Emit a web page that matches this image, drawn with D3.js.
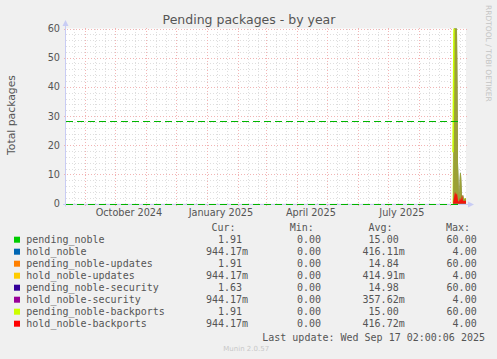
<!DOCTYPE html>
<html><head><meta charset="utf-8">
<script src="https://cdn.jsdelivr.net/npm/d3@7"></script>
<style>
body{margin:0;background:#f0f0f0}
svg{display:block}
</style>
</head><body>
<svg id="c" width="497" height="359"></svg>
<script>
// ---------- data ----------
const title = "Pending packages - by year";
const yLabel = "Total packages";
const yTicks = [0, 10, 20, 30, 40, 50, 60];
const xTickLabels = ["October 2024", "January 2025", "April 2025", "July 2025"];
const rangeStart = "2024-08-13T02:00:00";
const rangeEnd = "2025-09-17T02:00:00";
const seriesNames = ["pending_noble", "hold_noble", "pending_noble-updates", "hold_noble-updates",
  "pending_noble-security", "hold_noble-security", "pending_noble-backports", "hold_noble-backports"];
const seriesColors = ["#00cc00", "#0066b3", "#ff8000", "#ffcc00", "#330099", "#990099", "#ccff00", "#ff0000"];
const dates = ["2025-09-03", "2025-09-04", "2025-09-05", "2025-09-06", "2025-09-07", "2025-09-08",
  "2025-09-09", "2025-09-10", "2025-09-11", "2025-09-12", "2025-09-13", "2025-09-14",
  "2025-09-15", "2025-09-16", "2025-09-17"];
const pendingNoble          = [0, 0, 60, 60, 60, 60, 14, 1, 10.7, 10, 2, 3, 1.5, 1.9, 1.91];
const holdNoble             = [0, 0, 2, 4, 3, 3.5, 1, 0.5, 2, 1, 3, 1, 0.9, 0.94, 0.94];
const pendingNobleUpdates   = [0, 0, 60, 60, 60, 58, 13, 1, 10.5, 10, 2, 3, 1.5, 1.9, 1.91];
const holdNobleUpdates      = [0, 0, 2, 4, 3, 3.5, 1, 0.5, 2, 1, 3, 1, 0.9, 0.94, 0.94];
const pendingNobleSecurity  = [0, 0, 60, 60, 60, 60, 14, 1, 10.7, 10, 2, 3, 1.5, 1.6, 1.63];
const holdNobleSecurity     = [0, 0, 1.5, 4, 2.5, 3, 0.8, 0.4, 1.6, 0.8, 2.5, 0.8, 0.8, 0.94, 0.94];
const pendingNobleBackports = [0, 17.6, 60, 60, 60, 60, 14, 1, 10.7, 10, 2, 3, 1.5, 1.9, 1.91];
const holdNobleBackports    = [0, 0, 2, 4, 3, 3.5, 1, 0.5, 2, 1, 3, 1, 0.9, 0.94, 0.94];
const seriesValues = [pendingNoble, holdNoble, pendingNobleUpdates, holdNobleUpdates,
  pendingNobleSecurity, holdNobleSecurity, pendingNobleBackports, holdNobleBackports];
const ruleValues = [0, 28.3];
const curVals = ["1.91", "944.17m", "1.91", "944.17m", "1.63", "944.17m", "1.91", "944.17m"];
const minVals = ["0.00", "0.00", "0.00", "0.00", "0.00", "0.00", "0.00", "0.00"];
const avgVals = ["15.00", "416.11m", "14.84", "414.91m", "14.98", "357.62m", "15.00", "416.72m"];
const maxVals = ["60.00", "4.00", "60.00", "4.00", "60.00", "4.00", "60.00", "4.00"];
const colHeaders = ["Cur:", "Min:", "Avg:", "Max:"];
const lastUpdate = "Last update: Wed Sep 17 02:00:06 2025";
const watermark = "RRDTOOL / TOBI OETIKER";
const version = "Munin 2.0.57";

// ---------- drawing ----------
const svg = d3.select("#c");
const parse = s => new Date(s.length === 10 ? s + "T02:00:00" : s);
const t0 = parse(rangeStart), t1 = parse(rangeEnd);
const x = d3.scaleTime().domain([t0, t1]).range([66, 466]);
const y = d3.scaleLinear().domain([0, 60]).range([203.5, 28.5]);
const sans = "'DejaVu Sans', sans-serif";
const mono = "'DejaVu Sans Mono', monospace";

svg.append("rect").attr("width", 497).attr("height", 359).attr("fill", "#f0f0f0");
svg.append("rect").attr("x", x.range()[0]).attr("y", y(60)).attr("width", x.range()[1] - x.range()[0])
  .attr("height", y(0) - y(60)).attr("fill", "#ffffff");

// grid
const g = svg.append("g").attr("shape-rendering", "crispEdges");
const minorC = "#dedede", majorC = "#f2b4b4";
const minorY = d3.range(0, 61, 2).filter(v => v % 10 !== 0);
g.selectAll(".hy").data(minorY).join("line")
  .attr("x1", x.range()[0]).attr("x2", x.range()[1]).attr("y1", d => Math.round(y(d)) + 0.5).attr("y2", d => Math.round(y(d)) + 0.5)
  .attr("stroke", minorC).attr("stroke-dasharray", "1,2");
const minorX = [];
d3.timeMonth.range(d3.timeMonth.floor(t0), t1).forEach(m => {
  [11, 21].forEach(dd => { const d = new Date(m.getFullYear(), m.getMonth(), dd, 0); if (d > t0 && d < t1) minorX.push(d); });
});
g.selectAll(".vx").data(minorX).join("line")
  .attr("x1", d => Math.round(x(d)) + 0.5).attr("x2", d => Math.round(x(d)) + 0.5).attr("y1", y(0)).attr("y2", y(60))
  .attr("stroke", minorC).attr("stroke-dasharray", "1,2");
const majorX = d3.timeMonth.range(t0, t1);
g.selectAll(".mx").data(majorX).join("line")
  .attr("x1", d => Math.round(x(d)) + 0.5).attr("x2", d => Math.round(x(d)) + 0.5).attr("y1", y(0) + 2).attr("y2", y(60) - 1)
  .attr("stroke", majorC).attr("stroke-dasharray", "1,2");
g.selectAll(".my").data(yTicks.filter(v => v > 0)).join("line")
  .attr("x1", x.range()[0] - 2).attr("x2", x.range()[1] + 2).attr("y1", d => Math.round(y(d)) + 0.5).attr("y2", d => Math.round(y(d)) + 0.5)
  .attr("stroke", majorC).attr("stroke-dasharray", "1,2");

// axes
const axC = "#c8ccf4";
svg.append("line").attr("x1", 65.5).attr("x2", 65.5).attr("y1", y(0) + 3).attr("y2", 24).attr("stroke", axC);
svg.append("path").attr("d", "M62.5,26 L65.5,20 L68.5,26 Z").attr("fill", axC);
svg.append("line").attr("x1", 63).attr("x2", 469).attr("y1", Math.round(y(0)) + 0.5).attr("y2", Math.round(y(0)) + 0.5).attr("stroke", axC);
svg.append("path").attr("d", `M468,${Math.round(y(0)) - 2.5} L474,${Math.round(y(0)) + 0.5} L468,${Math.round(y(0)) + 3.5} Z`).attr("fill", axC);

// areas
const pts = dates.map(parse);
const area = d3.area().x(d => x(d.t)).y0(y(0)).y1(d => y(d.v));
seriesValues.forEach((vals, i) => {
  const data = vals.map((v, k) => ({ t: pts[k], v }));
  const isHold = seriesNames[i].startsWith("hold");
  const op = isHold ? 0.85 : (seriesNames[i].endsWith("backports") ? 0.5 : 0.6);
  svg.append("path").datum(data).attr("d", area)
    .attr("fill", seriesColors[i]).attr("fill-opacity", op);
});
const lineGen = d3.line().x(d => x(d.t)).y(d => y(d.v));
svg.append("path").datum(pendingNobleBackports.map((v, k) => ({ t: pts[k], v })).slice(1, 3))
  .attr("d", lineGen).attr("fill", "none").attr("stroke", "#ccff00").attr("stroke-width", 1.5);

// rules
const ruleEnd = [parse("2025-09-09"), parse("2025-09-13")];
ruleValues.forEach((v, i) => {
  svg.append("line").attr("x1", x.range()[0]).attr("x2", x(ruleEnd[i]))
    .attr("y1", Math.round(y(v)) + 0.5).attr("y2", Math.round(y(v)) + 0.5)
    .attr("stroke", "#00b400").attr("stroke-width", 1).attr("stroke-dasharray", "7,4")
    .attr("shape-rendering", "crispEdges");
});

// y tick labels
svg.selectAll(".yl").data(yTicks).join("text")
  .attr("x", 60).attr("y", d => y(d) + 3.5).attr("text-anchor", "end")
  .attr("font-family", sans).attr("font-size", 9.7).attr("fill", "#555").text(d => d);

// x tick labels (centered mid-month)
const labelMonths = d3.timeMonth.every(3).range(t0, t1).filter(m => xTickLabels.includes(d3.timeFormat("%B %Y")(m)));
svg.selectAll(".xl").data(labelMonths).join("text")
  .attr("x", d => x(d3.timeDay.offset(d, 14))).attr("y", 216).attr("text-anchor", "middle")
  .attr("font-family", sans).attr("font-size", 9.7).attr("fill", "#555").text(d => d3.timeFormat("%B %Y")(d));

// title & labels
svg.append("text").attr("x", 249).attr("y", 23.5).attr("text-anchor", "middle")
  .attr("font-family", sans).attr("font-size", 12.5).attr("fill", "#555").text(title);
svg.append("text").attr("transform", "translate(15,115) rotate(-90)").attr("text-anchor", "middle")
  .attr("font-family", sans).attr("font-size", 10.8).attr("fill", "#555").text(yLabel);
svg.append("text").attr("transform", "translate(485.5,5) rotate(90)")
  .attr("font-family", sans).attr("font-size", 7.5).attr("fill", "#c4c4c4").text(watermark);

// legend
const colRight = [242, 321, 398.7, 476.7];
const colCenter = [223.5, 301.7, 380.5, 458];
svg.selectAll(".hd").data(colHeaders).join("text")
  .attr("x", (d, i) => colCenter[i]).attr("y", 230.8).attr("text-anchor", "middle")
  .attr("font-family", mono).attr("font-size", 10).attr("fill", "#555").text(d => d);
const cols = [curVals, minVals, avgVals, maxVals];
seriesNames.forEach((n, i) => {
  const by = 243.2 + 12 * i;
  svg.append("rect").attr("x", 14).attr("y", by - 6.5).attr("width", 6).attr("height", 6).attr("fill", seriesColors[i]);
  svg.append("text").attr("x", 26.3).attr("y", by).attr("font-family", mono).attr("font-size", 10).attr("fill", "#555").text(n);
  cols.forEach((c, j) => {
    const s = c[i];
    const hasUnit = s.endsWith("m");
    const num = hasUnit ? s.slice(0, -1) : s;
    svg.append("text").attr("x", colRight[j]).attr("y", by).attr("text-anchor", "end")
      .attr("font-family", mono).attr("font-size", 10).attr("fill", "#555").text(num);
    if (hasUnit) svg.append("text").attr("x", colRight[j]).attr("y", by)
      .attr("font-family", mono).attr("font-size", 10).attr("fill", "#555").text("m");
  });
});
svg.append("text").attr("x", 485).attr("y", 340.6).attr("text-anchor", "end")
  .attr("font-family", mono).attr("font-size", 10).attr("fill", "#555").text(lastUpdate);
svg.append("text").attr("x", 223.3).attr("y", 351).attr("font-family", sans).attr("font-size", 7).attr("fill", "#c8c8c8").text(version);
</script>
</body></html>
